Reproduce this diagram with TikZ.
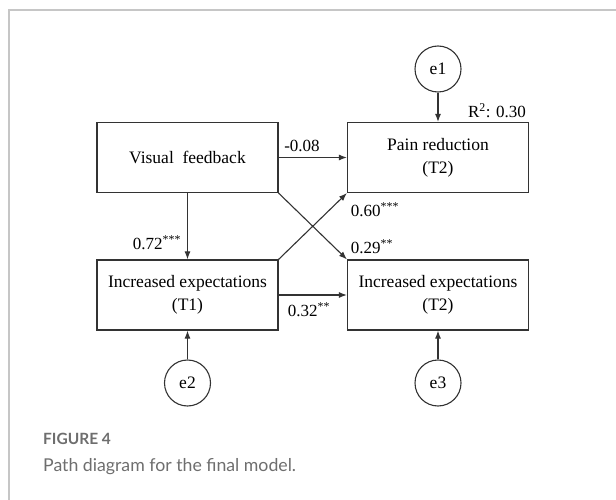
\documentclass[tikz,border=0pt]{standalone}
\usepackage{fontspec}
\setmainfont{Liberation Serif}
\newfontfamily\capfont{Lato}
\usetikzlibrary{arrows.meta}
\definecolor{linegray}{HTML}{333333}
\definecolor{framegray}{HTML}{C6C6C6}
\definecolor{capgray}{HTML}{6E6E6E}
\tikzset{
  varbox/.style={draw=linegray, line width=1.2pt, rectangle, minimum width=181pt, minimum height=70pt, inner sep=0pt, align=center, font=\fontsize{17.5}{23}\selectfont},
  errc/.style={draw=linegray, line width=1.1pt, circle, minimum size=46pt, inner sep=0pt, font=\fontsize{17.5}{20}\selectfont},
  path/.style={draw=linegray, line width=1.1pt, -{Latex[length=8pt,width=6pt]}},
  coef/.style={inner sep=0pt, font=\fontsize{17}{20}\selectfont},
}
\newcommand{\sig}[1]{\textsuperscript{#1}}
\begin{document}
\begin{tikzpicture}[x=1pt,y=-1pt]
\useasboundingbox (0,0) rectangle (616,500);
\draw[framegray, line width=1.5pt] (9,501) -- (9,10) -- (617,10);
% boxes
\node[varbox] (vf) at (187.5,157.5) {Visual~~feedback};
\node[varbox] (pr) at (438,157.5) {Pain reduction\\(T2)};
\node[varbox] (t1) at (187.5,295) {Increased expectations\\(T1)};
\node[varbox] (t2) at (438,295) {Increased expectations\\(T2)};
% error terms
\node[errc] (e1) at (438,69) {e1};
\node[errc] (e2) at (187.5,383) {e2};
\node[errc] (e3) at (438,383) {e3};
% paths
\draw[path] (vf.east) -- (pr.west);
\draw[path] (vf.south) -- (t1.north);
\draw[path] (vf.south east) -- (t2.north west);
\draw[path] (t1.north east) -- (pr.south west);
\draw[path] (t1.east) -- (t2.west);
\draw[path] (e1.south) -- (pr.north);
\draw[path] (e2.north) -- (t1.south);
\draw[path] (e3.north) -- (t2.south);
% labels
\node[coef] (r2) at (497,111) {R\textsuperscript{2}: 0.30};
\node[coef] (l1) at (302,146) {-0.08};
\node[coef] (l2) at (157,243) {0.72\sig{***}};
\node[coef] (l3) at (375,210) {0.60\sig{***}};
\node[coef] (l4) at (372,247) {0.29\sig{**}};
\node[coef] (l5) at (309,310) {0.32\sig{**}};
% caption
\node[anchor=base west, inner sep=0pt, text=capgray, font=\capfont\bfseries\fontsize{15.5}{17}\selectfont] (fig) at (43,444) {FIGURE 4};
\node[anchor=base west, inner sep=0pt, text=capgray, font=\capfont\fontsize{17.7}{20}\selectfont] (cap) at (43,471) {Path diagram for the final model.};
\end{tikzpicture}
\end{document}
